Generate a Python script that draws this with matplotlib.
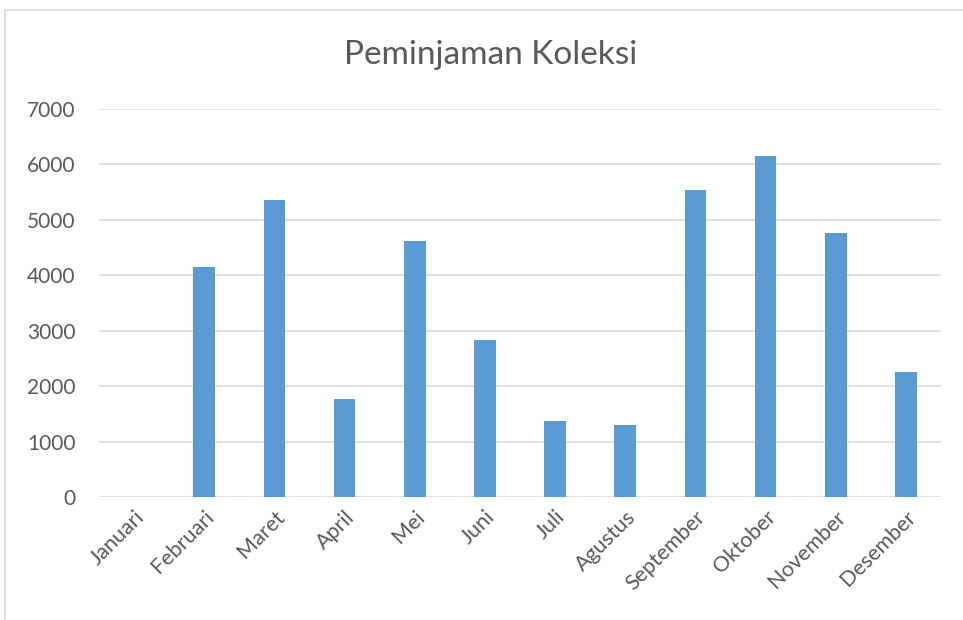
import matplotlib
matplotlib.use('Agg')
import matplotlib.pyplot as plt
from matplotlib.patches import Rectangle

months = ["Januari", "Februari", "Maret", "April", "Mei", "Juni", "Juli",
          "Agustus", "September", "Oktober", "November", "Desember"]
loans = [0, 4150, 5350, 1760, 4610, 2840, 1370, 1290, 5530, 6150, 4760, 2260]
yticks = [0, 1000, 2000, 3000, 4000, 5000, 6000, 7000]

text_col = "#595959"
grid_col = "#D9D9D9"
bar_col = "#5B9BD5"

plt.rcParams['font.family'] = ['Lato', 'DejaVu Sans']

fig = plt.figure(figsize=(9.63, 6.2), dpi=100)
fig.patch.set_facecolor('white')

# chart border (cropped at right/bottom in reference)
fig.patches.append(Rectangle((5 / 963, -0.1), 1.1, 1 - 10 / 620 + 0.1,
                             transform=fig.transFigure, fill=False,
                             edgecolor=grid_col, linewidth=1.2))

ax = fig.add_axes([99 / 963, 1 - 497 / 620, (941 - 99) / 963, (497 - 109) / 620])
x = range(len(months))
ax.bar(x, loans, width=0.31, color=bar_col, zorder=3)

ax.set_xlim(-0.5, len(months) - 0.5)
ax.set_ylim(0, 7000)
ax.set_yticks(yticks)
ax.set_yticklabels([str(v) for v in yticks], fontsize=15, color=text_col)
ax.set_xticks(list(x))
ax.set_xticklabels(months, rotation=45, ha='right', va='top',
                   rotation_mode='anchor', fontsize=15.5, color=text_col)
ax.tick_params(axis='both', length=0)
ax.tick_params(axis='y', pad=17)
ax.tick_params(axis='x', pad=7)
ax.grid(axis='y', color=grid_col, linewidth=1.2, zorder=0)
ax.set_axisbelow(True)
for s in ax.spines.values():
    s.set_visible(False)

fig.text(491 / 963, 1 - 55 / 620, "Peminjaman Koleksi", ha='center', va='center',
         fontsize=24, color=text_col)

fig.savefig("out.png", dpi=100, facecolor='white')
